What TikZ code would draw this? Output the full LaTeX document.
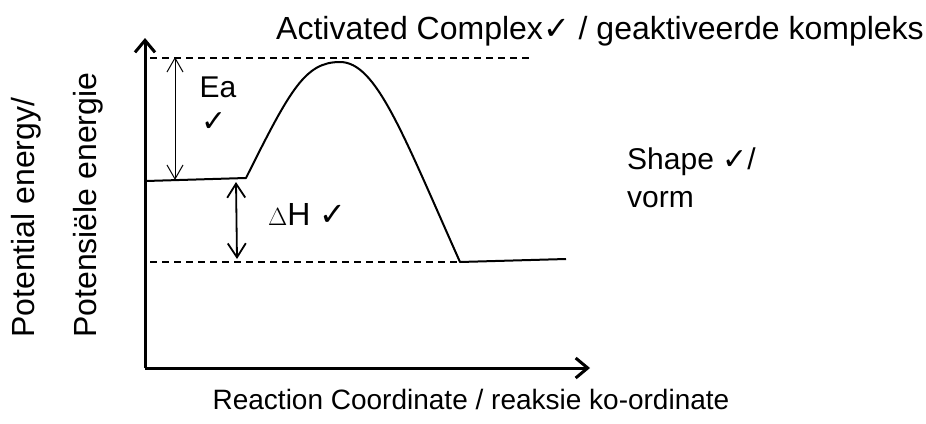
\documentclass[tikz,border=0pt]{standalone}
\usepackage{fontspec}
\setmainfont{Liberation Sans}
\newfontfamily\chk{DejaVu Sans}
\usetikzlibrary{arrows.meta}
\begin{document}
\begin{tikzpicture}[x=1pt,y=-1pt,
  lbl/.style={inner sep=0pt},
  big/.style={font=\fontsize{32}{36}\selectfont},
  mid/.style={font=\fontsize{30}{34}\selectfont},
  small/.style={font=\fontsize{28}{32}\selectfont},
  axisline/.style={line width=3pt},
  curveline/.style={line width=2pt},
  dashline/.style={line width=1.3pt, dash pattern=on 7pt off 5pt},
  eaarrow/.style={line width=1pt, {Straight Barb[length=14pt,width=16pt]}-{Straight Barb[length=14pt,width=16pt]}},
  dharrow/.style={line width=1.8pt, {Straight Barb[length=14pt,width=18pt]}-{Straight Barb[length=14pt,width=18pt]}}]
\useasboundingbox (0,0) rectangle (926,423);
% axes
\coordinate (O) at (145,368);
\coordinate (Ytop) at (145,38);
\coordinate (Xend) at (590,368);
\draw[axisline, -{Straight Barb[length=12pt,width=20pt]}] (O) -- (Ytop);
\draw[axisline, -{Straight Barb[length=12pt,width=20pt]}] (O) -- (Xend);
% energy profile
\coordinate (R0) at (146,181);
\coordinate (R1) at (246,178);
\coordinate (Peak) at (340,62);
\coordinate (P0) at (460,262);
\coordinate (P1) at (566,259);
\draw[curveline, line join=round] (R0) -- (R1) .. controls (290,90) and (305,62) .. (Peak) .. controls (376,62) and (402,132) .. (P0) -- (P1);
% dashed lines
\coordinate (D1a) at (150,58);
\coordinate (D1b) at (530,58);
\coordinate (D2a) at (150,262);
\draw[dashline] (D1a) -- (D1b);
\draw[dashline] (D2a) -- (P0);
% arrows
\coordinate (EaT) at (175,57);
\coordinate (EaB) at (175,180);
\draw[eaarrow] (EaT) -- (EaB);
\coordinate (dHT) at (236,182);
\coordinate (dHB) at (237,259);
\draw[dharrow] (dHT) -- (dHB);
% labels
\node[lbl, mid] (ea) at (218,87) {Ea};
\node[lbl, mid] (eachk) at (214,122) {\chk ✓};
\node[lbl, big, anchor=west] (dh) at (268,214) {$\Delta$H \chk ✓};
\node[lbl, mid, anchor=west] (shape) at (627,162) {Shape \chk ✓\rmfamily/};
\node[lbl, mid, anchor=west] (vorm) at (627,200) {vorm};
\node[lbl, big] (ac) at (600,31) {Activated Complex{\chk ✓} / geaktiveerde kompleks};
\node[lbl, big, rotate=90, anchor=west] (ylab1) at (26,338) {Potential energy/};
\node[lbl, big, rotate=90, anchor=west] (ylab2) at (88,338) {Potensiële energie};
\node[lbl, small] (xlab) at (471,399) {Reaction Coordinate / reaksie ko-ordinate};
\end{tikzpicture}
\end{document}
